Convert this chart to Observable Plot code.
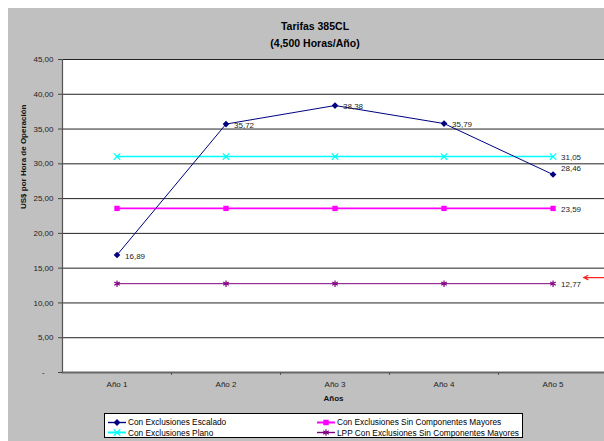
<!DOCTYPE html>
<html>
<head>
<meta charset="utf-8">
<script src="https://cdn.jsdelivr.net/npm/d3@7"></script>
<script src="https://cdn.jsdelivr.net/npm/@observablehq/plot@0.6"></script>
<style>
  html, body { margin: 0; padding: 0; background: #fff; width: 604px; height: 441px; overflow: hidden; font-family: "Liberation Sans", Arial, sans-serif; }
  #bg { position: absolute; left: 8px; top: 8px; width: 600px; height: 440px; background: #c0c0c0; }
  #title { position: absolute; left: 0; top: 17.5px; width: 630px; text-align: center; font-weight: bold; font-size: 10.5px; line-height: 17px; color: #000; }
  #chart { position: absolute; left: 0; top: 50px; }
  #legend { position: absolute; left: 104px; top: 413px; width: 417px; height: 23px; border: 1px solid #000; background: #fff; font-size: 8.3px; color: #000; }
  .item { position: absolute; display: flex; align-items: center; height: 11px; white-space: nowrap; }
  .item svg { margin-right: 2px; }
</style>
</head>
<body>
<div id="bg"></div>
<div id="title">Tarifas 385CL<br>(4,500 Horas/Año)</div>
<div id="chart"></div>
<div id="legend"></div>
<script>
// ---- data ----
const years = ["Año 1", "Año 2", "Año 3", "Año 4", "Año 5"];
const escalado = [16.89, 35.72, 38.38, 35.79, 28.46];
const plano = [31.05, 31.05, 31.05, 31.05, 31.05];
const sinComp = [23.59, 23.59, 23.59, 23.59, 23.59];
const lpp = [12.77, 12.77, 12.77, 12.77, 12.77];
const seriesNames = [
  "Con Exclusiones Escalado",
  "Con Exclusiones Plano",
  "Con Exclusiones Sin Componentes Mayores",
  "LPP Con Exclusiones Sin Componentes Mayores"
];
const yTicks = [0, 5, 10, 15, 20, 25, 30, 35, 40, 45];
const yLabel = "US$ por Hora de Operación";
const xLabel = "Años";
// annotation arrow (in data units: year index, value)
const arrowNote = [{from: 4.47, to: 4.28, value: 13.65}];

// ---- styling ----
const styles = [
  {color: "#000080", symbol: "diamond2", fill: true, width: 1},
  {color: "#00ffff", symbol: "times", fill: false, width: 1.6},
  {color: "#ff00ff", symbol: "square", fill: true, width: 1.6},
  {color: "#800080", symbol: "asterisk", fill: false, width: 1}
];
const allValues = [escalado, plano, sinComp, lpp];
const table = allValues.map((vals, s) => vals.map((v, i) => ({series: s, idx: i, year: years[i], value: v}))).flat();
const fmt = v => d3.format(".2f")(v).replace(".", ",");

// labels: all points of series 0, last point of the others
const labelRows = table.filter(d => d.series === 0 || d.idx === years.length - 1);

const marks = [Plot.frame({fill: "white", stroke: null})];
marks.push(Plot.ruleY(yTicks.filter(t => t > 0), {stroke: "#222", strokeWidth: 1}));
marks.push(Plot.frame({anchor: "left", stroke: "#555", strokeWidth: 1.2}));
marks.push(Plot.frame({anchor: "bottom", stroke: "#666", strokeWidth: 2}));
// draw order so navy line is on top
[1, 2, 3, 0].forEach(s => {
  const rows = table.filter(d => d.series === s);
  const st = styles[s];
  marks.push(Plot.line(rows, {x: "idx", y: "value", stroke: st.color, strokeWidth: st.width}));
  marks.push(Plot.dot(rows, {
    x: "idx", y: "value", symbol: () => st.symbol, r: 3,
    fill: st.fill ? st.color : "none", stroke: st.fill ? "none" : st.color, strokeWidth: 1.2
  }));
});
marks.push(Plot.text(labelRows.filter(d => !(d.series === 0 && d.idx === 4)), {
  x: "idx", y: "value", text: d => fmt(d.value), dx: 8, dy: 1, textAnchor: "start", fill: "#222", fontSize: 8
}));
marks.push(Plot.text(labelRows.filter(d => d.series === 0 && d.idx === 4), {
  x: "idx", y: "value", text: d => fmt(d.value), dx: 8, dy: -6, textAnchor: "start", fill: "#222", fontSize: 8
}));
marks.push(Plot.arrow(arrowNote, {x1: "from", x2: "to", y1: "value", y2: "value", stroke: "#ff2020", strokeWidth: 1.2, headLength: 6, headAngle: 50}));
marks.push(Plot.axisY({ticks: yTicks, tickSize: 4, tickPadding: 5, stroke: "#444", fill: "#222",
  tickFormat: v => v === 0 ? "-\u00a0\u00a0\u00a0\u00a0" : fmt(v), label: null}));
marks.push(Plot.axisX({ticks: years.map((_, i) => i), tickSize: 0, tickPadding: 9, fill: "#222",
  tickFormat: i => years[i], label: null}));
marks.push(Plot.axisX({ticks: [0.5, 1.5, 2.5, 3.5], tickSize: 3, stroke: "#555", tickFormat: () => "", label: null}));
marks.push(Plot.text([yLabel], {frameAnchor: "left", rotate: -90, dx: -39, dy: -7, fontWeight: "bold", fontSize: 8, fill: "#111"}));
marks.push(Plot.text([xLabel], {frameAnchor: "bottom", dy: 28, fontWeight: "bold", fontSize: 8, fill: "#111"}));

const chart = Plot.plot({
  width: 604,
  height: 360,
  marginLeft: 62,
  marginRight: 0,
  marginTop: 9,
  marginBottom: 38,
  style: {background: "transparent", fontFamily: "'Liberation Sans', Arial, sans-serif", fontSize: "8px", overflow: "visible"},
  x: {type: "linear", domain: [-0.5, 4.472]},
  y: {domain: [0, 45]},
  marks
});
document.getElementById("chart").append(chart);

// ---- legend ----
const legend = document.getElementById("legend");
const positions = [[3, 2.5], [3, 13], [212, 2.5], [212, 13]];
const symbolTypes = {diamond2: d3.symbolDiamond2, times: d3.symbolTimes, square: d3.symbolSquare, asterisk: d3.symbolAsterisk};
seriesNames.forEach((name, s) => {
  const st = styles[s];
  const item = document.createElement("div");
  item.className = "item";
  item.style.left = positions[s][0] + "px";
  item.style.top = positions[s][1] + "px";
  const path = d3.symbol(symbolTypes[st.symbol], 30)();
  item.innerHTML = `<svg width="18" height="11"><line x1="0" x2="18" y1="5.5" y2="5.5" stroke="${st.color}" stroke-width="${st.width + 0.4}"/>` +
    `<path transform="translate(9,5.5)" d="${path}" fill="${st.fill ? st.color : "none"}" stroke="${st.fill ? "none" : st.color}" stroke-width="1.2"/></svg><span>${name}</span>`;
  legend.append(item);
});
</script>
</body>
</html>
